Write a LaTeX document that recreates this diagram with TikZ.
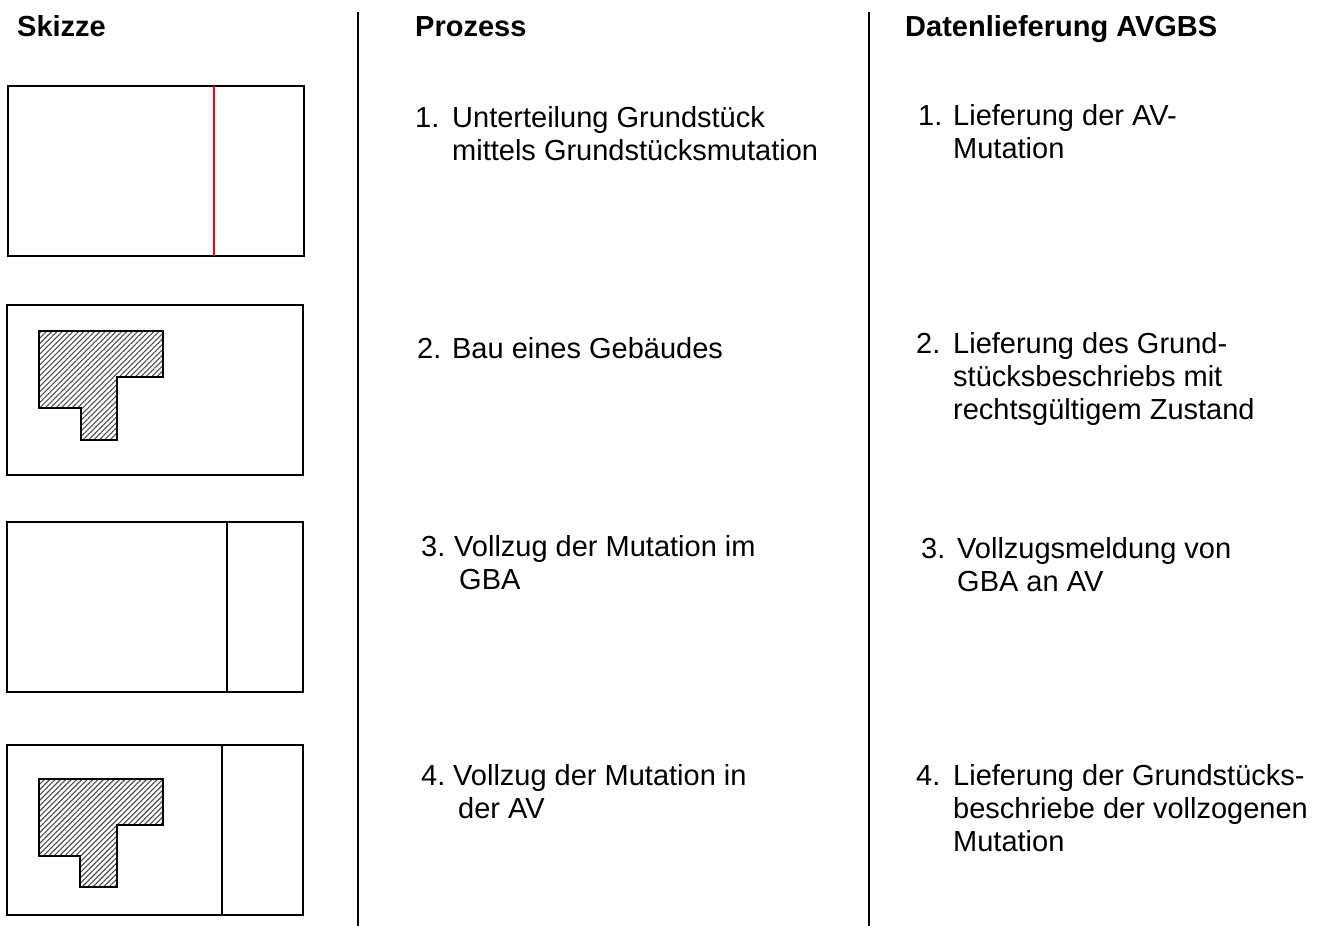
\documentclass[tikz,border=0pt]{standalone}
\usepackage{fontspec}
\setmainfont{Liberation Sans}
\usetikzlibrary{patterns.meta}
\tikzset{
  txt/.style={anchor=north west, yshift=23.1pt, inner sep=0pt, align=left, font=\fontsize{29}{33}\selectfont},
  head/.style={txt, font=\fontsize{29}{33}\selectfont\bfseries},
  plot/.style={draw, line width=2pt},
  haus/.style={draw, line width=2pt, pattern={Lines[angle=45,distance=3.8pt,line width=1.1pt]}, pattern color=black!70},
}
\begin{document}
\begin{tikzpicture}[x=1pt,y=-1pt]
\useasboundingbox (0,0) rectangle (1328,926);
% column separators
\draw[line width=2pt] (358,12) -- (358,926);
\draw[line width=2pt] (869,12) -- (869,926);
% headers
\node[head] (hSkizze) at (17,36) {\strut Skizze};
\node[head] (hProzess) at (415,36) {\strut Prozess};
\node[head] (hDaten) at (905,36) {\strut Datenlieferung AVGBS};
% sketches
\draw[plot] (8,86) rectangle (304,256);
\draw[red, line width=2pt] (214,86) -- (214,256);
\draw[plot] (7,305) rectangle (303,475);
\draw[haus] (39,331) -- (163,331) -- (163,377) -- (117,377) -- (117,440) -- (81,440) -- (81,408) -- (39,408) -- cycle;
\draw[plot] (7,522) rectangle (303,692);
\draw[plot] (227,522) -- (227,692);
\draw[plot] (7,745) rectangle (303,915);
\draw[plot] (222,745) -- (222,915);
\draw[haus] (39,779) -- (163,779) -- (163,825) -- (117,825) -- (117,887) -- (80,887) -- (80,856) -- (39,856) -- cycle;
% Prozess
\node[txt] (p1n) at (415,127) {\strut 1.};
\node[txt] (p1) at (452,127) {\strut Unterteilung Grundstück\\mittels Grundstücksmutation};
\node[txt] (p2) at (417,358) {\strut 2. Bau eines Gebäudes};
\node[txt] (p3n) at (421,556) {\strut 3.};
\node[txt] (p3) at (454,556) {\strut Vollzug der Mutation im\\\hspace{5pt}GBA};
\node[txt] (p4n) at (421,785) {\strut 4.};
\node[txt] (p4) at (453,785) {\strut Vollzug der Mutation in\\\hspace{5pt}der AV};
% Datenlieferung
\node[txt] (d1n) at (918,125) {\strut 1.};
\node[txt] (d1) at (953,125) {\strut Lieferung der AV-\\Mutation};
\node[txt] (d2n) at (916,353) {\strut 2.};
\node[txt] (d2) at (953,353) {\strut Lieferung des Grund-\\stücksbeschriebs mit\\rechtsgültigem Zustand};
\node[txt] (d3n) at (921,558) {\strut 3.};
\node[txt] (d3) at (957,558) {\strut Vollzugsmeldung von\\GBA an AV};
\node[txt] (d4n) at (916,785) {\strut 4.};
\node[txt] (d4) at (953,785) {\strut Lieferung der Grundstücks-\\beschriebe der vollzogenen\\Mutation};
\end{tikzpicture}
\end{document}
